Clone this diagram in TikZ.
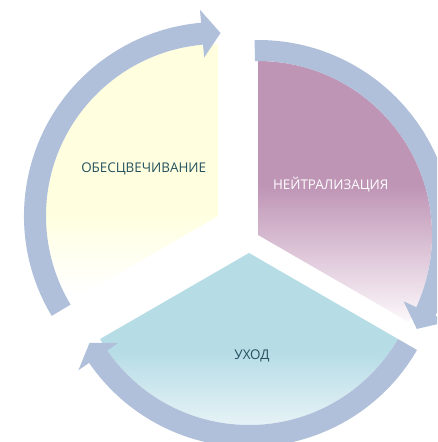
\documentclass[tikz,border=0pt]{standalone}
\usepackage{fontspec}
\newfontfamily\labfont{Open Sans}
\usetikzlibrary{calc}
\definecolor{arrowc}{RGB}{176,192,218}
\definecolor{purp}{RGB}{191,149,182}
\definecolor{purpend}{RGB}{252,248,251}
\definecolor{yell}{RGB}{255,255,224}
\definecolor{cyanc}{RGB}{182,220,230}
\definecolor{cyanend}{RGB}{246,250,252}
\definecolor{textc}{RGB}{38,82,95}
\pgfdeclareverticalshading{purpshade}{100bp}{color(0bp)=(purpend); color(25bp)=(purpend); color(51bp)=(purp); color(100bp)=(purp)}
\pgfdeclareverticalshading{yellshade}{100bp}{color(0bp)=(white); color(27bp)=(white); color(42bp)=(yell); color(100bp)=(yell)}
\pgfdeclareverticalshading{cyanshade}{100bp}{color(0bp)=(cyanend); color(25bp)=(cyanend); color(50bp)=(cyanc); color(100bp)=(cyanc)}
\tikzset{
  lab/.style={font=\labfont\fontsize{13.4}{15}\selectfont, text=textc, inner sep=0pt, anchor=base},
  arrowband/.style={fill=arrowc, draw=none}
}
\begin{document}
\begin{tikzpicture}[x=1pt,y=1pt]
\useasboundingbox (0,0) rectangle (437,442);
\fill[white] (0,0) rectangle (437,442);
\clip (0,0) rectangle (437,442);
\coordinate (R) at (258,207);
\coordinate (L) at (218,226);
\coordinate (B) at (249,189);
% sectors
\shade[shading=purpshade] (R) -- ++(90:174) arc[start angle=90,end angle=-30,radius=174] -- cycle;
\shade[shading=yellshade] (L) -- ++(90:172) arc[start angle=90,end angle=210,radius=172] -- cycle;
\shade[shading=cyanshade] (B) -- ++(210:172) arc[start angle=210,end angle=330,radius=172] -- cycle;
% arrows
\begin{scope}[shift={(R)}]
\fill[arrowband] (91:195) arc[start angle=91,end angle=-24.5,radius=195] -- (-24.5:209) -- (-30.6:184.5) -- (-24.5:160) -- (-24.5:174) arc[start angle=-24.5,end angle=91,radius=174] -- cycle;
\end{scope}
\begin{scope}[shift={(L)}]
\fill[arrowband] (211:194) arc[start angle=211,end angle=95,radius=194] -- (95:207) -- (89.2:183) -- (95:159) -- (95:172) arc[start angle=95,end angle=211,radius=172] -- cycle;
\end{scope}
\begin{scope}[shift={(B)}]
\fill[arrowband] (-30:194) arc[start angle=-30,end angle=-145.5,radius=194] -- (-145.5:207) -- (-150.6:183) -- (-145.5:159) -- (-145.5:172) arc[start angle=-145.5,end angle=-30,radius=172] -- cycle;
\end{scope}
% labels
\node[lab] (t1) at (143.7,269.7) {ОБЕСЦВЕЧИВАНИЕ};
\node[lab, text=white] (t2) at (330.7,252.7) {НЕЙТРАЛИЗАЦИЯ};
\node[lab] (t3) at (252,82.7) {УХОД};
\end{tikzpicture}
\end{document}
